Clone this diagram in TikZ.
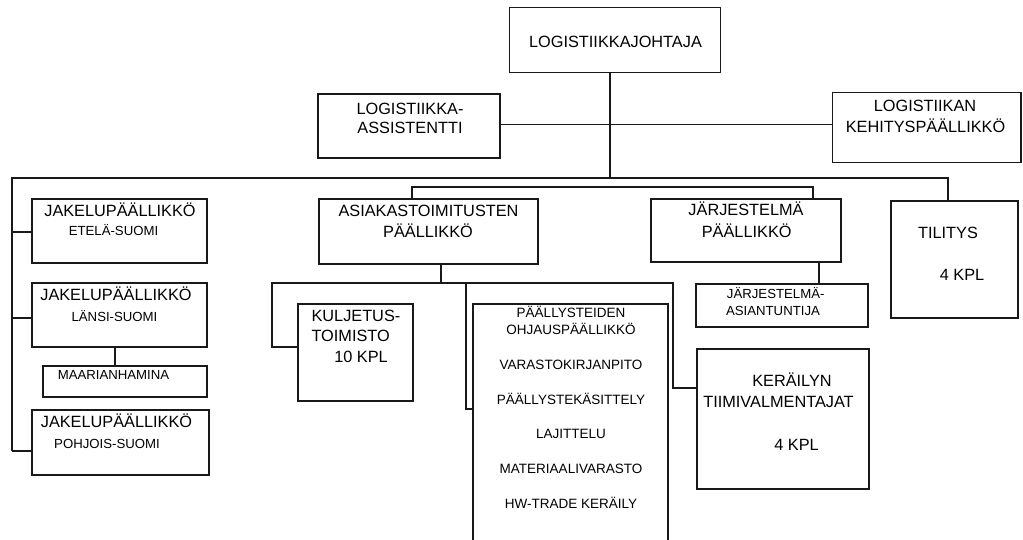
\documentclass[tikz,border=0pt]{standalone}
\usepackage{fontspec}
\setmainfont{Liberation Sans}
\begin{document}
\begin{tikzpicture}[x=1pt,y=-1pt,
  line width=1.1pt,
  box/.style={draw=black!90, line width=1.1pt, rectangle, inner sep=0pt, outer sep=0pt, anchor=north west},
  link/.style={draw=black!90, line width=1.1pt},
  big/.style={inner sep=0pt, text height=11.7pt, text depth=0pt, font=\fontsize{16.3}{18}\selectfont},
  small/.style={inner sep=0pt, text height=9.45pt, text depth=0pt, font=\fontsize{13.2}{15}\selectfont},
  list/.style={inner sep=0pt, text height=9.7pt, text depth=0pt, font=\fontsize{13.5}{15}\selectfont}]
\useasboundingbox (0,0) rectangle (1023,539);
\clip (0,0) rectangle (1023,539);
\fill[white] (0,0) rectangle (1023,539);

% boxes
\node[box, minimum width=211pt, minimum height=65pt] (top) at (509.5,7.5) {};
\node[box, minimum width=182pt, minimum height=64pt] (assist) at (318,94) {};
\node[box, minimum width=188.5pt, minimum height=70pt] (kehitys) at (832.5,92.5) {};
\node[box, minimum width=175pt, minimum height=64pt] (etela) at (32,199) {};
\node[box, minimum width=175pt, minimum height=64pt] (lansi) at (32,283) {};
\node[box, minimum width=164pt, minimum height=31pt] (maari) at (43,366) {};
\node[box, minimum width=177pt, minimum height=65pt] (pohjois) at (32,410) {};
\node[box, minimum width=219pt, minimum height=65pt] (asiakas) at (319,199) {};
\node[box, minimum width=190pt, minimum height=63pt] (jarj) at (651,199) {};
\node[box, minimum width=127pt, minimum height=117pt] (tilitys) at (891,201) {};
\node[box, minimum width=172pt, minimum height=43pt] (asiant) at (696,284) {};
\node[box, minimum width=115pt, minimum height=97pt] (kuljetus) at (298,304) {};
\node[box, minimum width=195pt, minimum height=260pt] (paall) at (473,304) {};
\node[box, minimum width=172pt, minimum height=140pt] (kerailyn) at (697,349) {};

% junction points
\coordinate (trunk) at (610,178);
\coordinate (mid) at (610,124.5);
\coordinate (busL) at (12,178);
\coordinate (busR) at (948,178);
\coordinate (tapE) at (12,232);
\coordinate (tapL) at (12,318);
\coordinate (tapP) at (12,451);
\coordinate (lm) at (115,0);
\coordinate (sbL) at (412,187);
\coordinate (sbR) at (813,187);
\coordinate (ab) at (441,283);
\coordinate (aL) at (272,283);
\coordinate (aM) at (466,283);
\coordinate (aR) at (673,283);
\coordinate (kt) at (272,347);
\coordinate (pt) at (466,409);
\coordinate (kt2) at (673,388);
\coordinate (jb) at (819,0);

% connectors
\draw[link] (trunk |- top.south) -- (trunk);
\draw[link] (assist.east |- mid) -- (kehitys.west |- mid);
\draw[link] (tapP) -- (busL) -- (busR) -- (busR |- tilitys.north);
\draw[link] (tapE) -- (tapE -| etela.west);
\draw[link] (tapL) -- (tapL -| lansi.west);
\draw[link] (tapP) -- (tapP -| pohjois.west);
\draw[link] (lm |- lansi.south) -- (lm |- maari.north);
\draw[link] (sbL |- asiakas.north) -- (sbL) -- (sbR) -- (sbR |- jarj.north);
\draw[link] (ab |- asiakas.south) -- (ab);
\draw[link] (kt -| kuljetus.west) -- (kt) -- (aL) -- (aR) -- (kt2) -- (kt2 -| kerailyn.west);
\draw[link] (aM) -- (pt) -- (pt -| paall.west);
\draw[link] (jb |- jarj.south) -- (jb |- asiant.north);

% texts
\node[big] (t1) at (615.5,41.5) {LOGISTIIKKAJOHTAJA};
\node[big] (t2) at (410,109) {LOGISTIIKKA-};
\node[big] (t3) at (410,127.3) {ASSISTENTTI};
\node[big] (t4) at (925,105.7) {LOGISTIIKAN};
\node[big] (t5) at (925.5,126.7) {KEHITYSPÄÄLLIKKÖ};

\node[big] (t6) at (120,211) {JAKELUPÄÄLLIKKÖ};
\node[small] (t7) at (113.5,231) {ETELÄ-SUOMI};
\node[big] (t8) at (116,295) {JAKELUPÄÄLLIKKÖ};
\node[small] (t9) at (114.5,317) {LÄNSI-SUOMI};
\node[small] (t10) at (113.5,375) {MAARIANHAMINA};
\node[big] (t11) at (116.5,422) {JAKELUPÄÄLLIKKÖ};
\node[small] (t12) at (107,444) {POHJOIS-SUOMI};

\node[big] (t13) at (428.5,211) {ASIAKASTOIMITUSTEN};
\node[big] (t14) at (428,232) {PÄÄLLIKKÖ};
\node[big] (t15) at (746,210) {JÄRJESTELMÄ};
\node[big] (t16) at (746.7,232) {PÄÄLLIKKÖ};
\node[small] (t17) at (775.7,293.5) {JÄRJESTELMÄ-};
\node[small] (t18) at (773,311) {ASIANTUNTIJA};
\node[big] (t19) at (948,233) {TILITYS};
\node[big] (t20) at (962,275) {4 KPL};

\node[big, anchor=west] (t21) at (311,316) {KULJETUS-};
\node[big, anchor=west] (t22) at (311,336) {TOIMISTO};
\node[big] (t23) at (361,357) {10 KPL};

\node[list] (t24) at (571,313) {PÄÄLLYSTEIDEN};
\node[list] (t25) at (571,330) {OHJAUSPÄÄLLIKKÖ};
\node[list] (t26) at (571,365) {VARASTOKIRJANPITO};
\node[list] (t27) at (571,400) {PÄÄLLYSTEKÄSITTELY};
\node[list] (t28) at (571,434) {LAJITTELU};
\node[list] (t29) at (571,469) {MATERIAALIVARASTO};
\node[list] (t30) at (571,504) {HW-TRADE KERÄILY};

\node[big] (t31) at (792,381) {KERÄILYN};
\node[big] (t32) at (778.5,402) {TIIMIVALMENTAJAT};
\node[big] (t33) at (796.5,445) {4 KPL};
\end{tikzpicture}
\end{document}
